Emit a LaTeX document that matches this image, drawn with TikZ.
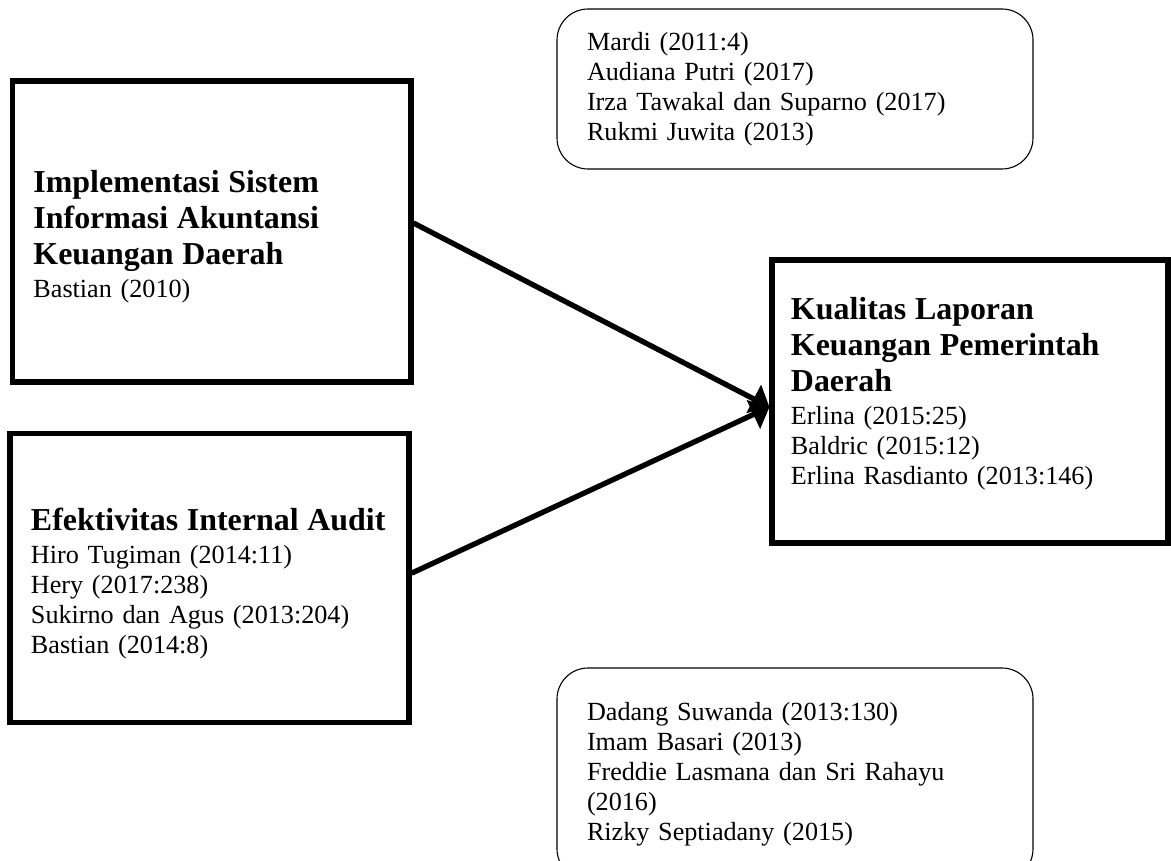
\documentclass[tikz,border=0pt]{standalone}
\usepackage{fontspec}
\setmainfont{Liberation Serif}
\usetikzlibrary{
	arrows.meta,
	positioning
}
\def\pxu{0.451pt}
\newcommand{\judul}[1]{{\fontsize{14.4}{16.2}\selectfont\bfseries #1}}

\begin{document}
\begin{tikzpicture}
[x=0.451pt,y=-0.451pt,
varbox/.style={rectangle,draw=black,line width=2.3pt},
teks/.style={inner sep=0pt,align=left,text width=368*\pxu,font=\fontsize{11.8}{13.5}\selectfont},
refbox/.style={rectangle,draw=black,line width=0.5pt,rounded corners=14pt,align=left,inner xsep=30*\pxu,text width=416*\pxu,minimum height=160*\pxu,font=\fontsize{11.8}{13.5}\selectfont},
link/.style={line width=2.4pt,-{Triangle[length=8pt,width=14pt]}}]
\useasboundingbox (0,0) rectangle (1171,861);
% variabel X1, X2 dan Y
\node (isak) at (211.75,231.5) [varbox,minimum width=398.5*\pxu,minimum height=301*\pxu] {};
\node (isakteks) [teks,right=10.4pt of isak.west,yshift=-2.3pt]
{\judul{Implementasi Sistem}\\[2.7pt]\judul{Informasi Akuntansi}\\[2.7pt]\judul{Keuangan Daerah}\\[1.2pt]Bastian (2010)};
\node (eia) at (209.5,578.3) [varbox,minimum width=399*\pxu,minimum height=288.7*\pxu] {};
\node (eiateks) [teks,right=10.4pt of eia.west,yshift=-2.3pt]
{\judul{Efektivitas Internal Audit}\\[1.2pt]Hiro Tugiman (2014:11)\\Hery (2017:238)\\Sukirno dan Agus (2013:204)\\Bastian (2014:8)};
\node (klkpd) at (970,401.5) [varbox,minimum width=396*\pxu,minimum height=283*\pxu] {};
\node (klkpdteks) [teks,right=9.5pt of klkpd.west,yshift=3.5pt]
{\judul{Kualitas Laporan}\\[2.7pt]\judul{Keuangan Pemerintah}\\[2.7pt]\judul{Daerah}\\[1.2pt]Erlina (2015:25)\\Baldric (2015:12)\\Erlina Rasdianto (2013:146)};
% rujukan penelitian terdahulu
\node (ref1) at (795,89) [refbox]
{Mardi (2011:4)\\Audiana Putri (2017)\\Irza Tawakal dan Suparno (2017)\\Rukmi Juwita (2013)};
\node (ref2) at (795,774) [refbox,minimum height=212*\pxu]
{Dadang Suwanda (2013:130)\\Imam Basari (2013)\\Freddie Lasmana dan Sri Rahayu\\(2016)\\Rizky Septiadany (2015)};
% panah
\draw[link] ([yshift=3.8pt]isak.east) -- ([yshift=-2.5pt]klkpd.west);
\draw[link] ([yshift=2.3pt]eia.east) -- ([yshift=-2.5pt]klkpd.west);
\end{tikzpicture}
\end{document}
